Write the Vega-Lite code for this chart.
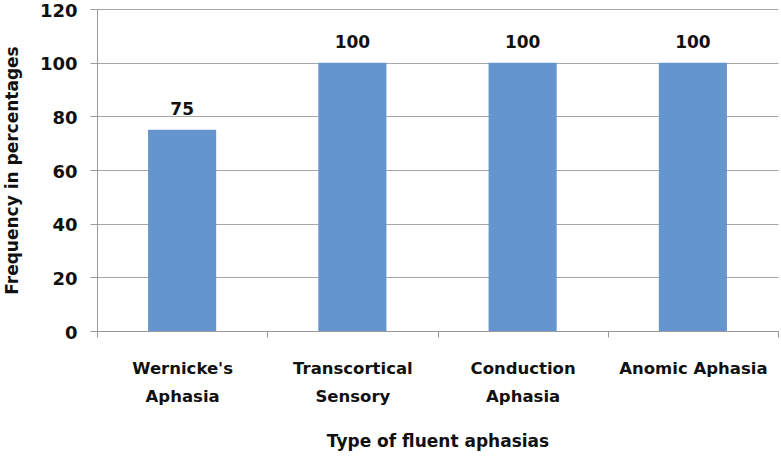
{
  "$schema": "https://vega.github.io/schema/vega-lite/v6.json",
  "width": 681,
  "height": 322,
  "autosize": "none",
  "padding": {"left": 97, "top": 9, "right": 3, "bottom": 125},
  "background": "white",
  "data": {
    "values": [
      {"type": "Wernicke's Aphasia", "freq": 75},
      {"type": "Transcortical Sensory", "freq": 100},
      {"type": "Conduction Aphasia", "freq": 100},
      {"type": "Anomic Aphasia", "freq": 100}
    ]
  },
  "config": {
    "font": "DejaVu Sans",
    "view": {"stroke": null},
    "axis": {
      "labelFont": "DejaVu Sans",
      "labelFontWeight": "bold",
      "labelColor": "#111",
      "titleFont": "DejaVu Sans",
      "titleFontWeight": "bold",
      "titleColor": "#111",
      "domainColor": "#999",
      "tickColor": "#999",
      "gridColor": "#a6a6a6"
    }
  },
  "encoding": {
    "x": {
      "field": "type",
      "type": "nominal",
      "sort": null,
      "scale": {"paddingInner": 0, "paddingOuter": 0},
      "axis": {
        "title": "Type of fluent aphasias",
        "titleFontSize": 17,
        "titlePadding": 29,
        "labelFontSize": 16.5,
        "labelAngle": 0,
        "labelPadding": 23,
        "labelLineHeight": 28,
        "labelExpr": "datum.value == null ? '' : (datum.value == 'Anomic Aphasia' ? datum.value : split(datum.value, ' '))",
        "tickBand": "extent",
        "tickSize": 6,
        "domainColor": "#999"
      }
    },
    "y": {
      "field": "freq",
      "type": "quantitative",
      "scale": {"domain": [0, 120]},
      "axis": {
        "title": "Frequency in percentages",
        "titleFontSize": 17,
        "titlePadding": 18,
        "labelFontSize": 18,
        "labelPadding": 13,
        "labelOffset": 2,
        "labelOverlap": false,
        "labelFlush": false,
        "values": [0, 20, 40, 60, 80, 100, 120],
        "tickSize": 7,
        "grid": true
      }
    }
  },
  "layer": [
    {"mark": {"type": "bar", "color": "#6495cf", "width": {"band": 0.4}}},
    {
      "mark": {"type": "text", "dy": -20, "fontSize": 17, "fontWeight": "bold", "font": "DejaVu Sans", "color": "#111"},
      "encoding": {"text": {"field": "freq", "type": "quantitative"}}
    }
  ]
}
